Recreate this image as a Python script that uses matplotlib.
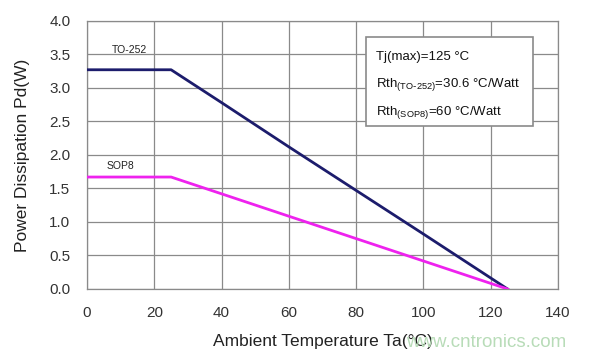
import matplotlib
matplotlib.use("Agg")
import matplotlib.pyplot as plt
from matplotlib.patches import Rectangle

plt.rcParams['font.family'] = ['Liberation Sans', 'DejaVu Sans']

to252_temp = [0, 25, 40, 60, 80, 100, 125]
to252_pd = [3.27, 3.27, 2.78, 2.12, 1.47, 0.82, 0.0]
sop8_temp = [0, 25, 125]
sop8_pd = [1.67, 1.67, 0.0]
x_ticks = [0, 20, 40, 60, 80, 100, 120, 140]
y_ticks = [0.0, 0.5, 1.0, 1.5, 2.0, 2.5, 3.0, 3.5, 4.0]

fig = plt.figure(figsize=(5.97, 3.59), dpi=100)
ax = fig.add_axes([0.1457, 0.195, 0.789, 0.747])

ax.plot(to252_temp, to252_pd, color='#1c1c6c', lw=2, solid_joinstyle='round', zorder=3)
ax.plot(sop8_temp, sop8_pd, color='#ee22ee', lw=2, solid_joinstyle='round', zorder=3)

ax.set_xlim(0, 140)
ax.set_ylim(0, 4.0)
ax.set_xticks(x_ticks)
ax.set_yticks(y_ticks)
ax.set_yticklabels([f"{v:.1f}" for v in y_ticks])
ax.grid(True, color='#8a8a8a', lw=0.9)
ax.set_axisbelow(True)
for s in ax.spines.values():
    s.set_color('#8a8a8a')
    s.set_linewidth(0.9)
ax.tick_params(axis='y', length=0, pad=12, labelsize=11, colors='#333333')
ax.tick_params(axis='x', length=0, pad=12, labelsize=11, colors='#333333')

ax.set_xlabel('Ambient Temperature Ta(°C)', fontsize=12.5, color='#222222', labelpad=10)
ax.set_ylabel('Power Dissipation Pd(W)', fontsize=12.5, color='#222222', labelpad=14)

ax.text(12.5, 3.56, 'TO-252', fontsize=7.5, ha='center', va='center', color='#222222')
ax.text(10, 1.83, 'SOP8', fontsize=7.5, ha='center', va='center', color='#222222')

ax.add_patch(Rectangle((83, 2.43), 49.5, 1.33, facecolor='white', edgecolor='#8a8a8a',
                       lw=1.2, zorder=4))
ax.text(85.8, 3.46, 'Tj(max)=125 °C', fontsize=9.5, va='center', zorder=5, color='#111111')
ax.text(85.8, 3.05, r'Rth$_{\mathregular{(TO\text{-}252)}}$=30.6 °C/Watt', fontsize=9.5,
        va='center', zorder=5, color='#111111')
ax.text(85.8, 2.64, r'Rth$_{\mathregular{(SOP8)}}$=60 °C/Watt', fontsize=9.5,
        va='center', zorder=5, color='#111111')

fig.text(0.948, 0.045, 'www.cntronics.com', fontsize=13.5, color='#b8dcb8',
         ha='right', va='center')

fig.savefig('out.png', dpi=100, facecolor='white')
